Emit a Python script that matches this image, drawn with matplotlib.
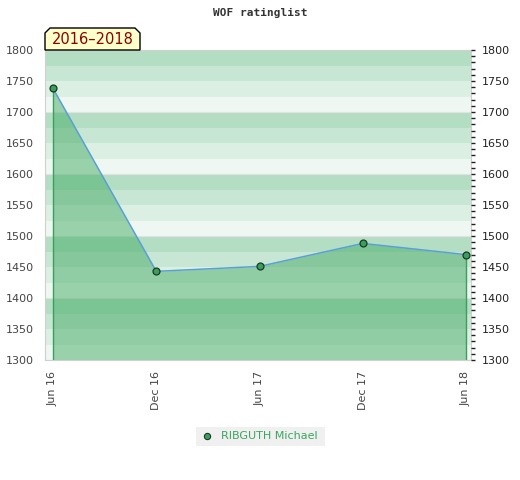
import numpy as np
import matplotlib
matplotlib.use("Agg")
import matplotlib.pyplot as plt
from matplotlib.patches import Polygon, Rectangle
from matplotlib.lines import Line2D

# rating history
dates = ["Jun 16", "Dec 16", "Jun 17", "Dec 17", "Jun 18"]
ratings = [1738, 1443, 1451, 1488, 1470]
player = "RIBGUTH Michael"
period = "2016\u20132018"

ymin, ymax = 1300, 1800
band_colors = ["#eff7f2", "#dcefe3", "#c8e6d4", "#b3dec4"]  # lightest at bottom of each 100


def main():
    fig = plt.figure(figsize=(5.2, 4.8), dpi=100)
    ax = fig.add_axes([45 / 520, 120 / 480, 426 / 520, 310 / 480])

    # striped background, 25 points per band
    for lo in range(ymin, ymax, 25):
        ax.axhspan(lo, lo + 25, color=band_colors[(lo % 100) // 25], lw=0, zorder=0)
    for h in range(ymin + 100, ymax, 100):
        ax.axhline(h, color="#e2e2e2", lw=0.8, zorder=0.5)

    x = np.arange(len(dates))
    ax.fill_between(x, ratings, ymin, color="#45ac66", alpha=0.5, lw=0, zorder=1)
    ax.vlines([x[0], x[-1]], ymin, [ratings[0], ratings[-1]], color="#3a9e5c", lw=1, zorder=2)
    ax.plot(x, ratings, color="#5b9fd8", lw=1.1, zorder=3)
    ax.plot(x, ratings, "o", ms=5, mfc="#3a9e5c", mec="#1a3a22", mew=0.9, zorder=4)

    ax.set_xlim(-8 / 103.25, 4 + 5 / 103.25)
    ax.set_ylim(ymin, ymax)
    ax.set_xticks(x)
    ax.set_xticklabels(dates, rotation=90, fontsize=8, color="#444444")
    ax.set_yticks(range(ymin, ymax + 1, 50))
    ax.tick_params(axis="y", length=0, labelsize=8, labelcolor="#444444", pad=8)
    ax.tick_params(axis="x", length=0, pad=8)
    for s in ax.spines.values():
        s.set_color("#d0d0d0")

    ax2 = ax.twinx()
    ax2.set_ylim(ymin, ymax)
    ax2.set_yticks(range(ymin, ymax + 1, 50))
    ax2.set_yticks(range(ymin, ymax + 1, 10), minor=True)
    ax2.tick_params(axis="y", which="both", direction="out", length=3, width=1,
                    color="#222222", labelsize=8, labelcolor="#222222", pad=5)
    for s in ax2.spines.values():
        s.set_visible(False)

    fig.text(0.5, 1 - 13 / 480, "WOF ratinglist", ha="center", va="center",
             family="DejaVu Sans Mono", weight="bold", fontsize=8, color="#333333")

    # period tag with cut corners above the plot
    L, R, B, T = 45 / 520, 140 / 520, 1 - 50 / 480, 1 - 28 / 480
    cx, cy = 5 / 520, 5 / 480
    tag = Polygon([(L, B), (L, T - cy), (L + cx, T), (R - cx, T), (R, T - cy), (R, B)],
                  closed=True, transform=fig.transFigure, fc="#ffffcc", ec="#000000", lw=1)
    fig.patches.append(tag)
    fig.text((L + R) / 2, (B + T) / 2 - 1 / 480, period, ha="center", va="center",
             fontsize=10.5, color="#8b0000")

    # legend box under the chart
    fig.patches.append(Rectangle((196 / 520, 1 - 446 / 480), 129 / 520, 19 / 480,
                                 transform=fig.transFigure, fc="#f0f0f0", ec="none"))
    fig.lines.append(Line2D([207 / 520], [1 - 436 / 480], transform=fig.transFigure,
                            marker="o", ms=4.5, mfc="#3a9e5c", mec="#1a3a22", mew=0.8))
    fig.text(221 / 520, 1 - 436 / 480, player, ha="left", va="center",
             fontsize=8, color="#3aa65e")

    fig.savefig("out.png", dpi=100)


if __name__ == '__main__':
    main()
